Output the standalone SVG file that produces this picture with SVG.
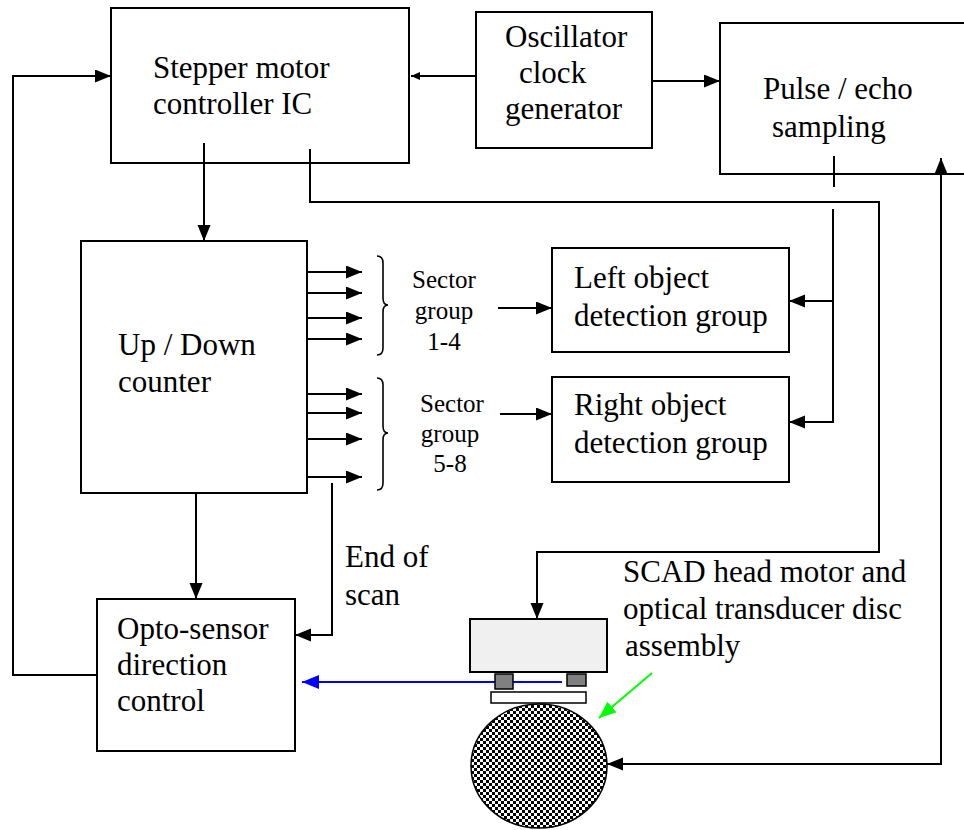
<svg xmlns="http://www.w3.org/2000/svg" width="964" height="830" viewBox="0 0 964 830">
  <defs>
    <style>
      .box { fill: none; stroke: #000000; stroke-width: 2; }
      .lbl { font-family: "Liberation Serif", "Times New Roman", serif; font-size: 31px; fill: #000000; }
      .sec { font-family: "Liberation Serif", "Times New Roman", serif; font-size: 25px; fill: #000000; text-anchor: middle; }
      .wire { fill: none; stroke: #000000; stroke-width: 2; }
      .arr { marker-end: url(#ah); }
      .brace { fill: none; stroke: #000000; stroke-width: 1.6; }
    </style>
    <marker id="ah" markerUnits="userSpaceOnUse" markerWidth="18" markerHeight="16" refX="16" refY="6.5" orient="auto">
      <path d="M0,0 L16,6.5 L0,13 z" fill="#000000"/>
    </marker>
    <marker id="ahs" markerUnits="userSpaceOnUse" markerWidth="12" markerHeight="10" refX="9" refY="4" orient="auto">
      <path d="M0,0 L9,4 L0,8 z" fill="#000000"/>
    </marker>
    <marker id="ahb" markerUnits="userSpaceOnUse" markerWidth="20" markerHeight="16" refX="17" refY="7" orient="auto">
      <path d="M0,0 L17,7 L0,14 z" fill="#0000ff"/>
    </marker>
    <marker id="ahg" markerUnits="userSpaceOnUse" markerWidth="20" markerHeight="16" refX="17" refY="7" orient="auto">
      <path d="M0,0 L17,7 L0,14 z" fill="#00ff00"/>
    </marker>
    <pattern id="checker" patternUnits="userSpaceOnUse" width="6" height="6">
      <rect width="6" height="6" fill="#ffffff"/>
      <rect x="0" y="0" width="3" height="3" fill="#000000"/>
      <rect x="3" y="3" width="3" height="3" fill="#000000"/>
    </pattern>
  </defs>

  <rect width="964" height="830" fill="#ffffff"/>

  <!-- connectors -->
  <g id="connectors">
    <!-- feedback from opto-sensor to stepper controller -->
    <path class="wire arr" d="M97,675 L13,675 L13,76 L111,76"/>
    <!-- oscillator to stepper controller -->
    <path class="wire" d="M476,76 L411,76" marker-end="url(#ahs)"/>
    <!-- oscillator to pulse/echo -->
    <path class="wire arr" d="M652,81 L720,81"/>
    <!-- stepper controller to up/down counter -->
    <path class="wire arr" d="M204,143 L204,241"/>
    <!-- stepper controller to SCAD head motor -->
    <path class="wire arr" d="M310,149 L310,202 L879,202 L879,552 L537,552 L537,619"/>
    <!-- pulse/echo to detection groups -->
    <path class="wire" d="M834,156 L834,187"/>
    <path class="wire arr" d="M833,209 L833,301 L789,301"/>
    <path class="wire arr" d="M833,300 L833,422 L789,422"/>
    <!-- disc to pulse/echo -->
    <path class="wire arr" d="M941,764 L607,764"/>
    <path class="wire arr" d="M941,765 L941,158"/>
    <!-- sector outputs 1-4 -->
    <path class="wire arr" d="M307,272 L362,272"/>
    <path class="wire arr" d="M307,293 L362,293"/>
    <path class="wire arr" d="M307,318 L362,318"/>
    <path class="wire arr" d="M307,339 L362,339"/>
    <!-- sector outputs 5-8 -->
    <path class="wire arr" d="M307,394 L362,394"/>
    <path class="wire arr" d="M307,413 L362,413"/>
    <path class="wire arr" d="M307,439 L362,439"/>
    <path class="wire arr" d="M307,477 L362,477"/>
    <!-- sector groups to detection groups -->
    <path class="wire arr" d="M498,308 L552,308"/>
    <path class="wire arr" d="M500,414 L552,414"/>
    <!-- up/down counter to opto-sensor -->
    <path class="wire arr" d="M196,493 L196,599"/>
    <!-- end of scan -->
    <path class="wire arr" d="M332,483 L332,635 L295,635"/>
    <!-- optical pick-off to opto-sensor -->
    <path d="M562,682 L302,682" fill="none" stroke="#0000ff" stroke-width="2" marker-end="url(#ahb)"/>
    <!-- pointer to disc assembly -->
    <path d="M652,673 L599,718" fill="none" stroke="#00ff00" stroke-width="2" marker-end="url(#ahg)"/>
    <!-- braces -->
    <path class="brace" d="M377,256 Q383,256 383,263 L383,298 Q383,305 388,305 Q383,305 383,312 L383,348 Q383,355 377,355"/>
    <path class="brace" d="M377,378 Q383,378 383,385 L383,426 Q383,433 388,433 Q383,433 383,440 L383,483 Q383,490 377,490"/>
  </g>

  <g id="stepper">
    <rect class="box" x="111" y="8" width="298" height="155"/>
    <text class="lbl" x="153" y="78">Stepper motor</text>
    <text class="lbl" x="153" y="114">controller IC</text>
  </g>

  <g id="oscillator">
    <rect class="box" x="476" y="12" width="176" height="136"/>
    <text class="lbl" x="505" y="47">Oscillator</text>
    <text class="lbl" x="519" y="83">clock</text>
    <text class="lbl" x="505" y="119">generator</text>
  </g>

  <g id="pulse">
    <rect class="box" x="720" y="23" width="260" height="151"/>
    <text class="lbl" x="763" y="99">Pulse / echo</text>
    <text class="lbl" x="772" y="137">sampling</text>
  </g>

  <g id="counter">
    <rect class="box" x="81" y="241" width="226" height="252"/>
    <text class="lbl" x="118" y="355">Up / Down</text>
    <text class="lbl" x="118" y="392">counter</text>
  </g>

  <g id="sector14">
    <text class="sec" x="444" y="288">Sector</text>
    <text class="sec" x="444" y="319">group</text>
    <text class="sec" x="444" y="350">1-4</text>
  </g>

  <g id="sector58">
    <text class="sec" x="452" y="412">Sector</text>
    <text class="sec" x="450" y="442">group</text>
    <text class="sec" x="450" y="472">5-8</text>
  </g>

  <g id="left-detect">
    <rect class="box" x="552" y="248" width="237" height="104"/>
    <text class="lbl" x="574" y="288">Left object</text>
    <text class="lbl" x="574" y="326">detection group</text>
  </g>

  <g id="right-detect">
    <rect class="box" x="552" y="377" width="237" height="105"/>
    <text class="lbl" x="574" y="415">Right object</text>
    <text class="lbl" x="574" y="453">detection group</text>
  </g>

  <g id="end-of-scan">
    <text class="lbl" x="345" y="567">End of</text>
    <text class="lbl" x="345" y="605">scan</text>
  </g>

  <g id="opto">
    <rect class="box" x="97" y="599" width="198" height="152"/>
    <text class="lbl" x="117" y="639">Opto-sensor</text>
    <text class="lbl" x="117" y="675">direction</text>
    <text class="lbl" x="117" y="711">control</text>
  </g>

  <g id="scad-head">
    <rect x="470" y="619" width="137" height="53" fill="#f0f0f0" stroke="#000000" stroke-width="2"/>
    <rect x="495" y="674" width="18" height="15" fill="#808080" stroke="#000000" stroke-width="1.5"/>
    <rect x="567" y="674" width="19" height="12" fill="#808080" stroke="#000000" stroke-width="1.5"/>
    <rect x="491" y="692" width="95" height="11" fill="#ffffff" stroke="#000000" stroke-width="1.5"/>
    <ellipse cx="539" cy="766" rx="68" ry="62" fill="url(#checker)" stroke="#000000" stroke-width="1.5"/>
  </g>

  <g id="scad-label">
    <text class="lbl" x="623" y="582">SCAD head motor and</text>
    <text class="lbl" x="623" y="619">optical transducer disc</text>
    <text class="lbl" x="625" y="656">assembly</text>
  </g>
</svg>
